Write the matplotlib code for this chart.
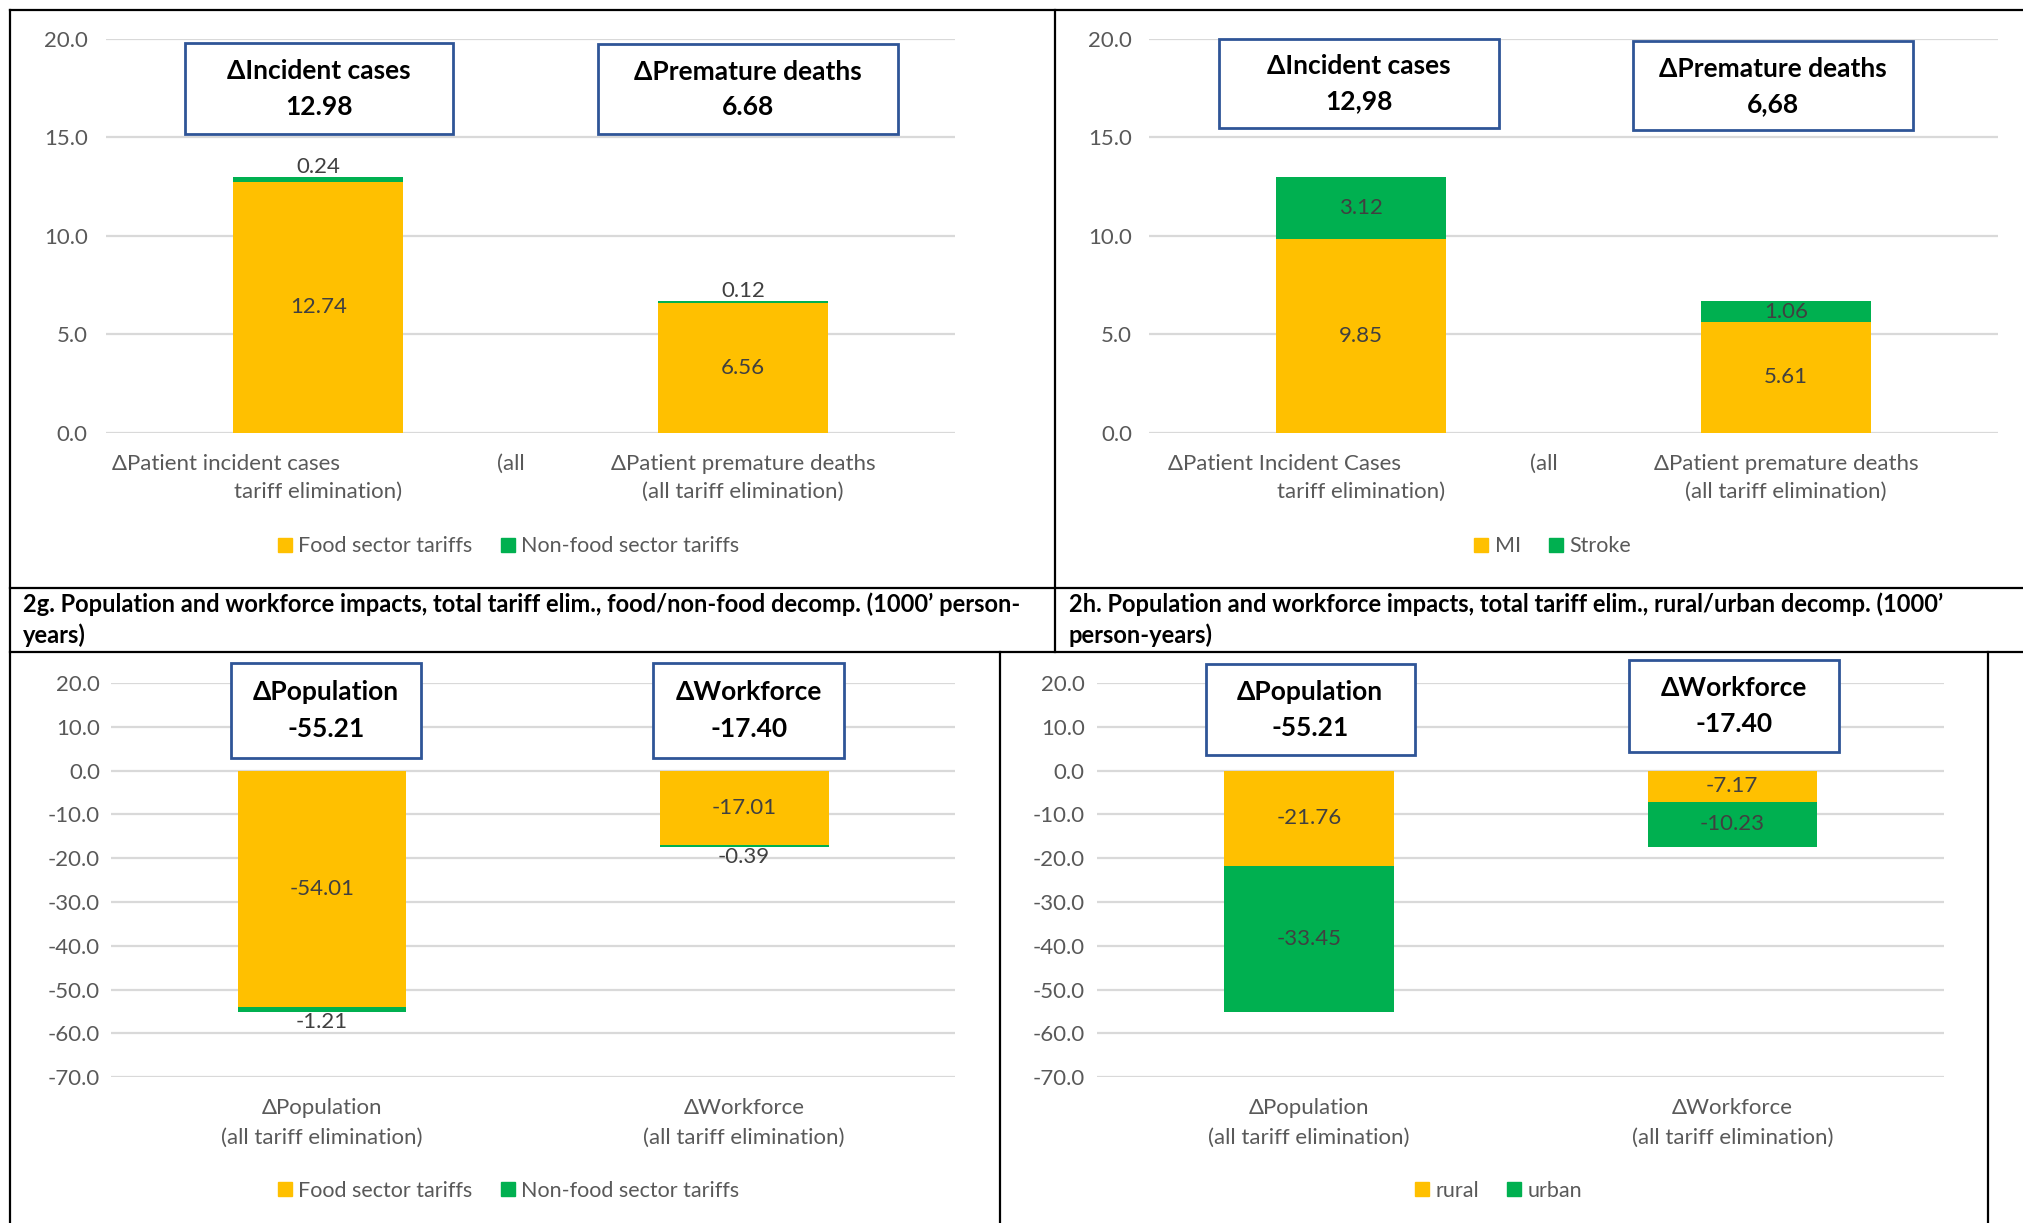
import matplotlib
matplotlib.use('Agg')
import matplotlib.pyplot as plt
from matplotlib.patches import Rectangle
from matplotlib.lines import Line2D
from matplotlib.ticker import FormatStrFormatter, MultipleLocator

plt.rcParams['font.family'] = ['Lato', 'DejaVu Sans']
plt.rcParams['axes.unicode_minus'] = False

# ---- data ----
cats_patient = ['ΔPatient incident cases (all tariff elimination)',
                'ΔPatient premature deaths (all tariff elimination)']
cats_patient_r = ['ΔPatient Incident Cases (all tariff elimination)',
                  'ΔPatient premature deaths (all tariff elimination)']
cats_pop = ['ΔPopulation (all tariff elimination)',
            'ΔWorkforce (all tariff elimination)']

food_2f = [12.74, 6.56]
nonfood_2f = [0.24, 0.12]
mi = [9.85, 5.61]
stroke = [3.12, 1.06]
food_2g = [-54.01, -17.01]
nonfood_2g = [-1.21, -0.39]
rural = [-21.76, -7.17]
urban = [-33.45, -10.23]

box_titles_patient = ['ΔIncident cases', 'ΔPremature deaths']
box_totals_2f = ['12.98', '6.68']
box_totals_2e = ['12,98', '6,68']
box_titles_pop = ['ΔPopulation', 'ΔWorkforce']
box_totals_pop = ['-55.21', '-17.40']

caption_g = ['2g. Population and workforce impacts, total tariff elim., food/non-food decomp. (1000\u2019 person-',
             'years)']
caption_h = ['2h. Population and workforce impacts, total tariff elim., rural/urban decomp. (1000\u2019',
             'person-years)']

YELLOW = '#FFC000'
GREEN = '#00B050'
GRID = '#D9D9D9'
TXT = '#595959'
LBL = '#404040'
BOXC = '#2F5597'

FS = 16        # ticks, data labels, category labels
FS_LEG = 15.5
FS_BOX = 19
FS_CAP = 17

# layout grid of the reference (scaled to the figure)
W, H = 1568.0, 947.0
fig = plt.figure(figsize=(20.24, 12.23), dpi=100)


def fx(x):
    return x / W


def fy(y):
    return 1 - y / H


def panel(left, right, ytop, ybot, ylim, step, pad):
    ax = fig.add_axes([fx(left), fy(ybot), fx(right) - fx(left), fy(ytop) - fy(ybot)])
    ax.set_xlim(-0.5, 1.5)
    ax.set_ylim(*ylim)
    ax.yaxis.set_major_locator(MultipleLocator(step))
    ax.yaxis.set_major_formatter(FormatStrFormatter('%.1f'))
    ax.grid(axis='y', color=GRID, lw=1.6)
    ax.set_axisbelow(True)
    for s in ax.spines.values():
        s.set_visible(False)
    ax.set_xticks([])
    ax.tick_params(axis='y', length=0, pad=pad, labelsize=FS, labelcolor=TXT)
    return ax


def stack(ax, s1, s2, c1, c2):
    x = range(len(s1))
    ax.bar(x, s1, width=0.4, color=c1, zorder=2)
    ax.bar(x, s2, width=0.4, bottom=s1, color=c2, zorder=2)
    span = ax.get_ylim()[1] - ax.get_ylim()[0]
    for i in x:
        ax.text(i, s1[i] / 2, '%.2f' % s1[i], ha='center', va='center',
                fontsize=FS, color=LBL, zorder=3)
        end = s1[i] + s2[i]
        if abs(s2[i]) / span < 0.03:
            # tiny segment: label sits just outside the bar end
            if end > 0:
                ax.annotate('%.2f' % s2[i], (i, end), xytext=(0, 0), textcoords='offset points',
                            ha='center', va='bottom', fontsize=FS, color=LBL)
            else:
                ax.annotate('%.2f' % s2[i], (i, end), xytext=(0, 0), textcoords='offset points',
                            ha='center', va='top', fontsize=FS, color=LBL)
        else:
            ax.text(i, s1[i] + s2[i] / 2, '%.2f' % s2[i], ha='center', va='center',
                    fontsize=FS, color=LBL, zorder=3)


def put(ax, x, ypx, s, ha='center'):
    bb = ax.get_position()
    yax = (fy(ypx) - bb.y0) / bb.height
    ax.text(x, yax, s, transform=ax.get_xaxis_transform(), ha=ha, va='center',
            fontsize=FS, color=TXT, clip_on=False)


def cats_wrapped(ax, labels, first_left, all_left, y1, y2, left_px, right_px):
    # Excel-style odd wrap of the first label
    to_data = lambda px: -0.5 + 2.0 * (px - left_px) / (right_px - left_px)
    head, tail = labels[0].split(' (all ')
    put(ax, to_data(first_left), y1, head, 'left')
    put(ax, to_data(all_left), y1, '(all', 'left')
    put(ax, 0, y2, tail, 'center')
    a, b = labels[1].split(' (')
    put(ax, 1, y1, a)
    put(ax, 1, y2, '(' + b)


def cats_plain(ax, labels, y1, y2):
    for i, lab in enumerate(labels):
        a, b = lab.split(' (')
        put(ax, i, y1, a)
        put(ax, i, y2, '(' + b)


def box(x0, y0, x1, y1, title, total):
    fig.patches.append(Rectangle((fx(x0), fy(y1)), fx(x1) - fx(x0), fy(y0) - fy(y1),
                                 transform=fig.transFigure, facecolor='white',
                                 edgecolor=BOXC, lw=2, zorder=5))
    cx = fx((x0 + x1) / 2)
    fig.text(cx, fy(y0 + (y1 - y0) * 0.31), title, ha='center', va='center',
             fontsize=FS_BOX, fontweight='bold', color='black', zorder=6)
    fig.text(cx, fy(y0 + (y1 - y0) * 0.70), total, ha='center', va='center',
             fontsize=FS_BOX, fontweight='bold', color='black', zorder=6)


def legend(cx, cy, names, colors):
    handles = [Rectangle((0, 0), 1, 1, color=c) for c in colors]
    fig.legend(handles, names, loc='center', bbox_to_anchor=(fx(cx), fy(cy)), ncol=2,
               frameon=False, fontsize=FS_LEG, labelcolor=TXT, handlelength=0.65,
               handleheight=0.65, handletextpad=0.3, columnspacing=1.3)


# ---- top-left: food / non-food, patients ----
ax1 = panel(82, 740, 30, 335, (0, 20), 5, 13)
stack(ax1, food_2f, nonfood_2f, YELLOW, GREEN)
cats_wrapped(ax1, cats_patient, 87, 385, 359, 381, 82, 740)
box(143, 33, 351, 104, box_titles_patient[0], box_totals_2f[0])
box(463, 34, 696, 104, box_titles_patient[1], box_totals_2f[1])
legend(394, 423, ['Food sector tariffs', 'Non-food sector tariffs'], [YELLOW, GREEN])

# ---- top-right: MI / stroke ----
ax2 = panel(890, 1548, 30, 335, (0, 20), 5, 12)
stack(ax2, mi, stroke, YELLOW, GREEN)
cats_wrapped(ax2, cats_patient_r, 905, 1185, 359, 381, 890, 1548)
box(944, 30, 1161, 99, box_titles_patient[0], box_totals_2e[0])
box(1265, 32, 1482, 101, box_titles_patient[1], box_totals_2e[1])
legend(1203, 423, ['MI', 'Stroke'], [YELLOW, GREEN])

# ---- bottom-left: population, food / non-food ----
ax3 = panel(86, 740, 529, 834, (-70, 20), 10, 8)
stack(ax3, food_2g, nonfood_2g, YELLOW, GREEN)
cats_plain(ax3, cats_pop, 858, 881)
box(179, 513, 326, 587, box_titles_pop[0], box_totals_pop[0])
box(506, 513, 654, 587, box_titles_pop[1], box_totals_pop[1])
legend(394, 922, ['Food sector tariffs', 'Non-food sector tariffs'], [YELLOW, GREEN])

# ---- bottom-right: population, rural / urban ----
ax4 = panel(850, 1506, 529, 834, (-70, 20), 10, 9)
stack(ax4, rural, urban, YELLOW, GREEN)
cats_plain(ax4, cats_pop, 858, 881)
box(934, 514, 1096, 585, box_titles_pop[0], box_totals_pop[0])
box(1262, 511, 1425, 582, box_titles_pop[1], box_totals_pop[1])
legend(1161, 922, ['rural', 'urban'], [YELLOW, GREEN])

# ---- captions row ----
fig.text(fx(18), fy(468), caption_g[0], va='center', fontsize=FS_CAP, fontweight='bold')
fig.text(fx(18), fy(492), caption_g[1], va='center', fontsize=FS_CAP, fontweight='bold')
fig.text(fx(828), fy(468), caption_h[0], va='center', fontsize=FS_CAP, fontweight='bold')
fig.text(fx(828), fy(492), caption_h[1], va='center', fontsize=FS_CAP, fontweight='bold')

# ---- table borders ----
rules = [((8, 1568), (8, 8)), ((8, 8), (8, 947)), ((817, 817), (8, 505)),
         ((8, 1568), (455, 455)), ((8, 1568), (505, 505)),
         ((775, 775), (505, 947)), ((1540, 1540), (505, 947))]
for xs, ys in rules:
    fig.add_artist(Line2D([fx(v) for v in xs], [fy(v) for v in ys], color='black', lw=1.6,
                          transform=fig.transFigure, zorder=10))

fig.savefig('out.png', dpi=100, facecolor='white')
